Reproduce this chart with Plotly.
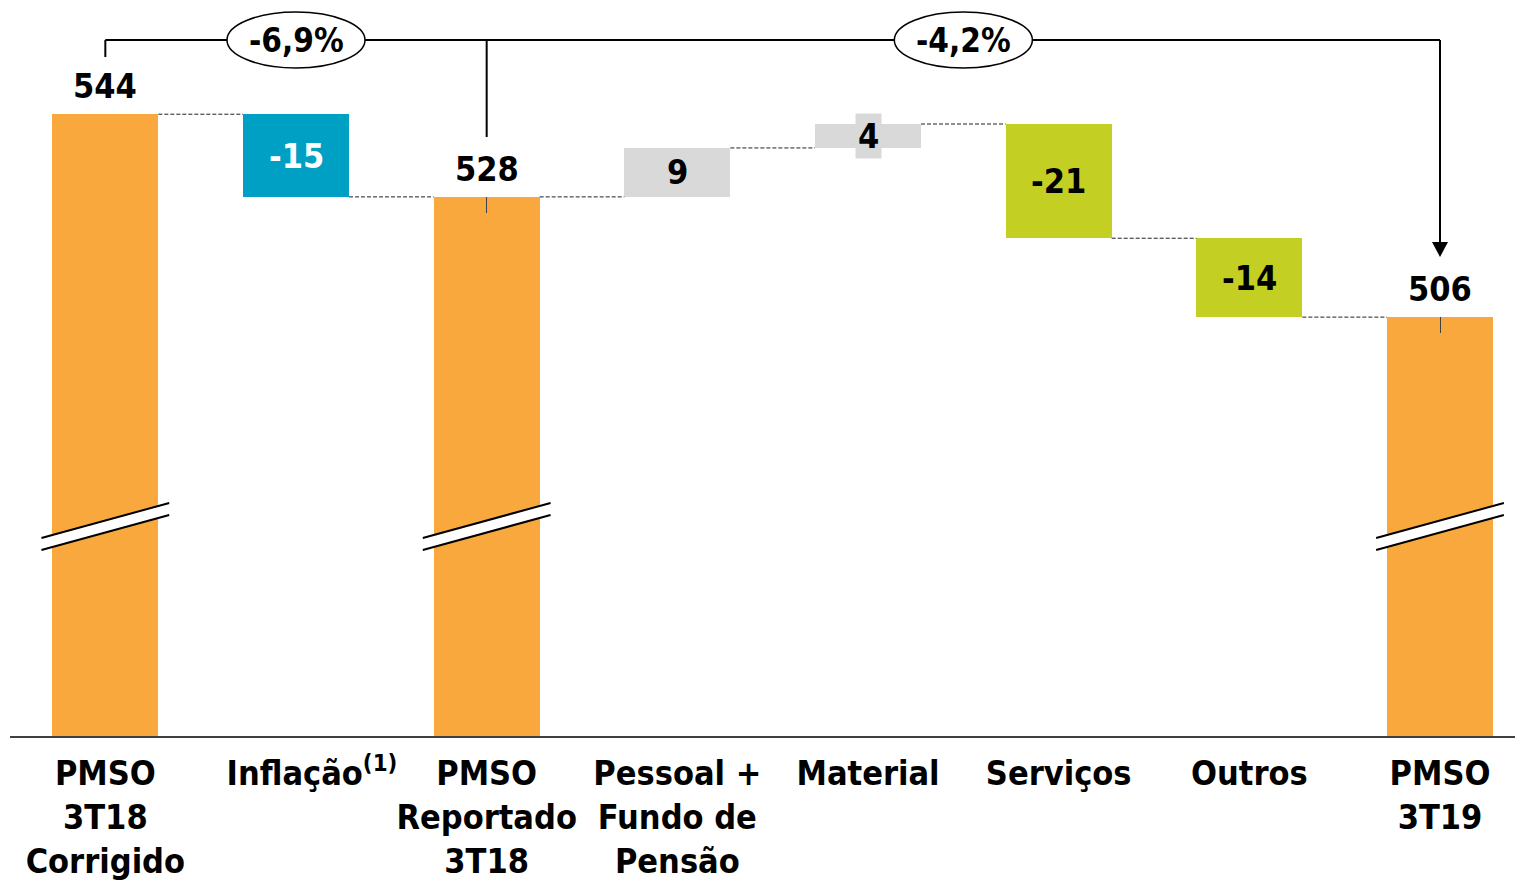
import plotly.graph_objects as go

# categories and values (R$ milhões)
keys = ["c0", "c1", "c2", "c3", "c4", "c5", "c6", "c7"]
tick_text = ["PMSO<br>3T18<br>Corrigido", "\u00a0\u00a0\u00a0Inflação<sup>(1)</sup>", "PMSO<br>Reportado<br>3T18",
             "Pessoal +<br>Fundo de<br>Pensão", "Material", "Serviços", "Outros", "PMSO<br>3T19"]
kinds = ["total", "delta", "total", "delta", "delta", "delta", "delta", "total"]
values = [543.7, -15.2, 528.5, 9.0, 4.4, -21.0, -14.5, 506.4]
labels = ["544", "-15", "528", "9", "4", "-21", "-14", "506"]
pct_labels = ["-6,9%", "-4,2%"]

ORANGE = "#F9A83D"
BLUE = "#00A0C4"
GREEN = "#C4CF23"
GREY = "#D9D9D9"
bar_colors = [ORANGE, BLUE, ORANGE, GREY, GREY, GREEN, GREEN, ORANGE]
label_colors = ["black", "white", "black", "black", "black", "black", "black", "black"]

FONT = "DejaVu Sans Condensed, Liberation Sans Narrow, sans-serif"

# page has an 8px body margin; plot area spans page rows 8..736
Y0, PXU, BASE_PX, TOP_PX = 429.4, 5.44, 736, 8
Y1 = Y0 + (BASE_PX - TOP_PX) / PXU
XU = 1512 / 7.93  # px per category
X1 = -0.5 + 1519 / XU


def py(p):
    # page pixel row -> data value
    return Y0 + (BASE_PX - p) / PXU


# running bases
bases, heights, ends = [], [], []
level = 0
for k, v in zip(kinds, values):
    if k == "total":
        bases.append(0)
        heights.append(v)
        level = v
        ends.append(v)
    else:
        new = level + v
        bases.append(min(level, new))
        heights.append(abs(v))
        level = new
        ends.append(new)

fig = go.Figure()
fig.add_trace(go.Bar(
    x=keys, y=heights, base=bases,
    marker=dict(color=bar_colors, line=dict(width=0)),
    width=0.556,
    error_y=dict(type="data", symmetric=False,
                 array=[0] * 8,
                 arrayminus=[3 if (k == "total" and i > 0) else 0 for i, k in enumerate(kinds)],
                 color="#404040", thickness=1, width=0),
    hoverinfo="skip",
))

shapes = []
annotations = []
hw = 0.278

# dashed connectors
for i in range(len(keys) - 1):
    lvl = ends[i]
    shapes.append(dict(type="line", xref="x", yref="y", x0=i + hw, x1=i + 1 - hw, y0=lvl, y1=lvl,
                       line=dict(color="#202020", width=1, dash="4px,2px")))

# value labels
for i, (k, lab) in enumerate(zip(kinds, labels)):
    if k == "total":
        annotations.append(dict(x=keys[i], y=heights[i], yanchor="bottom", yshift=6, text=lab,
                                showarrow=False, font=dict(family=FONT, size=34, color="black", weight="bold")))
    else:
        mid = bases[i] + heights[i] / 2
        a = dict(x=keys[i], y=mid, text=lab, showarrow=False,
                 font=dict(family=FONT, size=34, color=label_colors[i], weight="bold"))
        if heights[i] < 6:
            a.update(bgcolor=bar_colors[i], borderpad=2)
        annotations.append(a)

# axis break marks on total bars
yb = py(526.5)
dy = 17.5 / PXU
gap = 6 / PXU
bw = 0.335
for i, k in enumerate(kinds):
    if k != "total":
        continue
    shapes.append(dict(type="path", xref="x", yref="y", layer="above",
                       path=f"M {i - bw} {yb - dy - gap} L {i + bw} {yb + dy - gap} "
                            f"L {i + bw} {yb + dy + gap} L {i - bw} {yb - dy + gap} Z",
                       fillcolor="white", line=dict(width=0)))
    for s in (-1, 1):
        shapes.append(dict(type="line", xref="x", yref="y", layer="above",
                           x0=i - bw, x1=i + bw, y0=yb - dy + s * gap, y1=yb + dy + s * gap,
                           line=dict(color="black", width=2)))

# bracket lines with variation callouts
yl = py(40)
line_k = dict(color="black", width=2)
shapes.append(dict(type="line", xref="x", yref="y", x0=0, x1=7, y0=yl, y1=yl, line=line_k))
shapes.append(dict(type="line", xref="x", yref="y", x0=0, x1=0, y0=yl, y1=py(57), line=line_k))
shapes.append(dict(type="line", xref="x", yref="y", x0=2, x1=2, y0=yl, y1=py(137), line=line_k))
tip = py(257)
head_h = 15 / PXU
head_w = 8 / XU
shapes.append(dict(type="line", xref="x", yref="y", x0=7, x1=7, y0=yl, y1=tip + head_h / 2, line=line_k))
shapes.append(dict(type="path", xref="x", yref="y",
                   path=f"M {7 - head_w} {tip + head_h} L {7 + head_w} {tip + head_h} L 7 {tip} Z",
                   fillcolor="black", line=dict(width=0)))
for xc, txt in zip([1, 4.5], pct_labels):
    shapes.append(dict(type="circle", xref="x", yref="y", layer="above",
                       x0=xc - 0.362, x1=xc + 0.362, y0=py(68), y1=py(12),
                       fillcolor="white", line=dict(color="black", width=1.5)))
    annotations.append(dict(x=xc, y=yl, text=txt, showarrow=False,
                            font=dict(family=FONT, size=33, color="black", weight="bold")))

fig.update_layout(
    width=1523, height=882,
    margin=dict(l=2, r=2, t=0, b=882 - (BASE_PX - TOP_PX)),
    plot_bgcolor="white", paper_bgcolor="white",
    showlegend=False,
    bargap=0,
    shapes=shapes,
    annotations=annotations,
    xaxis=dict(type="category", tickvals=keys, ticktext=tick_text, range=[-0.5, X1],
               showline=True, linecolor="#404040", linewidth=2, ticks="", showgrid=False,
               tickangle=0, automargin=False, ticklabelstandoff=6,
               tickfont=dict(family=FONT, size=34, color="black", weight="bold")),
    yaxis=dict(range=[Y0, Y1], visible=False, showgrid=False, zeroline=False),
)

fig.write_html("out.html")
